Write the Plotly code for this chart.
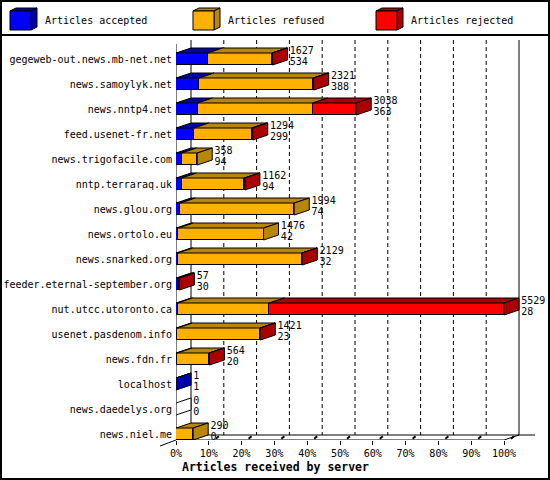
import plotly.graph_objects as go

# data (article counts per server)
servers = ['gegeweb-out.news.mb-net.net', 'news.samoylyk.net', 'news.nntp4.net', 'feed.usenet-fr.net',
           'news.trigofacile.com', 'nntp.terraraq.uk', 'news.glou.org', 'news.ortolo.eu',
           'news.snarked.org', 'feeder.eternal-september.org', 'nut.utcc.utoronto.ca',
           'usenet.pasdenom.info', 'news.fdn.fr', 'localhost', 'news.daedelys.org', 'news.niel.me']
totals = [1627, 2321, 3038, 1294, 358, 1162, 1994, 1476, 2129, 57, 5529, 1421, 564, 1, 0, 290]
accepted = [534, 388, 363, 299, 94, 94, 74, 42, 32, 30, 28, 23, 20, 1, 0, 0]
refused = [1085, 1926, 1941, 977, 264, 1058, 1920, 1434, 2092, 15, 1545, 1392, 539, 0, 0, 290]
rejected = [8, 7, 734, 18, 0, 10, 0, 0, 5, 12, 3956, 6, 5, 0, 0, 0]
pct_ticks = list(range(0, 101, 10))

FONT = 'DejaVu Sans Mono'
L, R, T, B = 176, 15, 40, 40
PLOT_W = 550 - L - R
PLOT_H = 480 - T - B
PX = 3.28            # pixels per percent
DX = 15 / PX         # 3d depth, x
DY = 0.2             # 3d depth, y (rows)
H = 0.24             # half height of a bar front
Y_FRONT = 15.24
Y_BACK = Y_FRONT - DY
Y_TOP = -0.76


def px_x(p):
    return (p - L) / PLOT_W


def px_y(p):
    return 1 - (p - T) / PLOT_H


rows = list(range(len(servers)))
scale = 100.0 / max(totals)
series = [
    ('Articles accepted', accepted, '#0000ff', '#0000aa'),
    ('Articles refused', refused, '#ffb000', '#b8860b'),
    ('Articles rejected', rejected, '#ff0000', '#aa0000'),
]

fig = go.Figure()

# front faces
for name, vals, front, dark in series:
    fig.add_trace(go.Bar(y=rows, x=[v * scale for v in vals], orientation='h', width=2 * H, name=name,
                         marker=dict(color=front, line=dict(color='black', width=1)),
                         hoverinfo='skip'))

# top faces
starts = [0.0] * len(rows)
side_color = ['white'] * len(rows)
for name, vals, front, dark in series:
    xs, ys = [], []
    for i in rows:
        w = vals[i] * scale
        if w > 0:
            x0, x1 = starts[i], starts[i] + w
            yt = i - H
            xs += [x0, x1, x1 + DX, x0 + DX, x0, None]
            ys += [yt, yt, yt - DY, yt - DY, yt, None]
            side_color[i] = dark
        starts[i] += w
    fig.add_trace(go.Scatter(x=xs, y=ys, mode='lines', fill='toself', fillcolor=dark,
                             line=dict(color='black', width=1), hoverinfo='skip'))

# side faces
for col in set(side_color):
    xs, ys = [], []
    for i in rows:
        if side_color[i] != col:
            continue
        xe = starts[i]
        xs += [xe, xe + DX, xe + DX, xe, xe, None]
        ys += [i - H, i - H - DY, i + H - DY, i + H, i - H, None]
    fig.add_trace(go.Scatter(x=xs, y=ys, mode='lines', fill='toself', fillcolor=col,
                             line=dict(color='black', width=1), hoverinfo='skip'))

# value labels
ends = [t * scale + DX + 0.7 for t in totals]
fig.add_trace(go.Scatter(x=ends, y=[r - 0.32 for r in rows], text=[str(v) for v in totals],
                         mode='text', textposition='middle right', cliponaxis=False,
                         textfont=dict(family=FONT, size=10, color='black'), hoverinfo='skip'))
fig.add_trace(go.Scatter(x=ends, y=[r + 0.12 for r in rows], text=[str(v) for v in accepted],
                         mode='text', textposition='middle right', cliponaxis=False,
                         textfont=dict(family=FONT, size=10, color='black'), hoverinfo='skip'))

# little back ticks on the floor
tx, ty = [], []
for v in pct_ticks[1:]:
    tx += [v + 7 / PX, v + 10 / PX, None]
    ty += [Y_FRONT - 0.05, Y_FRONT - 0.15, None]
fig.add_trace(go.Scatter(x=tx, y=ty, mode='lines', line=dict(color='black', width=2),
                         hoverinfo='skip', cliponaxis=False))

shapes = []
# dashed grid on the back wall
for v in pct_ticks[1:-1]:
    shapes.append(dict(type='line', xref='x', yref='y', x0=v + DX, x1=v + DX, y0=Y_TOP, y1=Y_BACK,
                       line=dict(color='black', width=1, dash='4px,3px'), layer='below'))
# walls and floor
wall = dict(color='black', width=1)
shapes += [
    dict(type='line', xref='x', yref='y', x0=0, x1=0, y0=-0.6, y1=Y_FRONT, line=wall, layer='below'),
    dict(type='line', xref='x', yref='y', x0=DX, x1=DX, y0=Y_TOP, y1=Y_BACK, line=wall, layer='below'),
    dict(type='line', xref='x', yref='y', x0=100 + DX, x1=100 + DX, y0=Y_TOP, y1=Y_BACK, line=wall,
         layer='below'),
    dict(type='line', xref='x', yref='y', x0=0, x1=100, y0=Y_FRONT, y1=Y_FRONT, line=wall, layer='below'),
    dict(type='line', xref='x', yref='y', x0=100, x1=100 + DX, y0=Y_FRONT, y1=Y_BACK, line=wall,
         layer='below'),
    dict(type='line', xref='x', yref='y', x0=DX, x1=PLOT_W / PX, y0=Y_BACK, y1=Y_BACK, line=wall,
         layer='below'),
    dict(type='line', xref='x', yref='y', x0=0, x1=DX, y0=Y_FRONT, y1=Y_BACK, line=wall, layer='below'),
    dict(type='line', xref='paper', yref='paper', x0=px_x(160), x1=px_x(176), y0=px_y(446),
         y1=px_y(440), line=wall),
]

# frame and legend separator
shapes.append(dict(type='rect', xref='paper', yref='paper', x0=px_x(1), x1=px_x(549), y0=px_y(1),
                   y1=px_y(479), line=dict(color='black', width=2)))
shapes.append(dict(type='line', xref='paper', yref='paper', x0=px_x(0), x1=px_x(550), y0=px_y(35),
                   y1=px_y(35), line=dict(color='black', width=2)))

# legend cubes
annotations = []
for (name, vals, front, dark), lx in zip(series, [10, 193, 376]):
    x0, x1, y0, y1 = lx, lx + 21, 11, 30
    d, h = 6, 3

    def pth(pts):
        return 'M ' + ' L '.join(f'{px_x(a)} {px_y(b)}' for a, b in pts) + ' Z'

    shapes.append(dict(type='path', xref='paper', yref='paper', fillcolor=dark,
                       path=pth([(x0, y0), (x1, y0), (x1 + d, y0 - h), (x0 + d, y0 - h)]),
                       line=dict(color='black', width=1)))
    shapes.append(dict(type='path', xref='paper', yref='paper', fillcolor=dark,
                       path=pth([(x1, y0), (x1 + d, y0 - h), (x1 + d, y1 - h), (x1, y1)]),
                       line=dict(color='black', width=1)))
    shapes.append(dict(type='path', xref='paper', yref='paper', fillcolor=front,
                       path=pth([(x0, y0), (x1, y0), (x1, y1), (x0, y1)]),
                       line=dict(color='black', width=1)))
    annotations.append(dict(xref='paper', yref='paper', x=px_x(lx + 33), y=px_y(21), text=name,
                            showarrow=False, xanchor='left', yanchor='middle',
                            font=dict(family=FONT, size=10, color='black')))

annotations.append(dict(xref='paper', yref='paper', x=px_x(180), y=px_y(467),
                        text='<b>Articles received by server</b>', showarrow=False,
                        xanchor='left', yanchor='middle',
                        font=dict(family=FONT, size=11.5, color='black')))

fig.update_layout(
    width=550, height=480,
    margin=dict(l=L, r=R, t=T, b=B, autoexpand=False),
    barmode='stack', bargap=0,
    showlegend=False,
    paper_bgcolor='white', plot_bgcolor='white',
    font=dict(family=FONT, size=10, color='black'),
    shapes=shapes, annotations=annotations,
    xaxis=dict(range=[0, PLOT_W / PX], tickvals=pct_ticks, ticktext=[f'{v}%' for v in pct_ticks],
               ticks='outside', ticklen=4, tickcolor='black', showgrid=False, zeroline=False,
               showline=False, fixedrange=True, tickfont=dict(family=FONT, size=10, color='black')),
    yaxis=dict(range=[Y_FRONT, Y_TOP], tickvals=rows, ticktext=servers, ticks='', showgrid=False,
               zeroline=False, showline=False, fixedrange=True, ticklabelstandoff=3,
               tickfont=dict(family=FONT, size=10, color='black')),
)

# the page's default body margin would push the 550x480 figure out of the window
fig.write_html('out.html', config={'displayModeBar': False},
               post_script="document.body.style.margin='0';")
